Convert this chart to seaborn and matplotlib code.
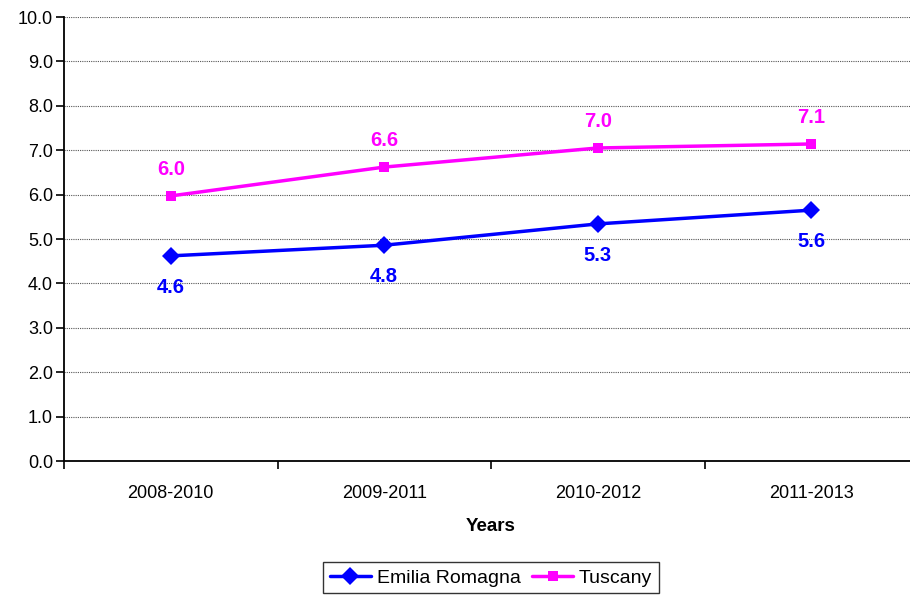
import matplotlib
matplotlib.use("Agg")
import matplotlib.pyplot as plt
import seaborn as sns
import numpy as np
import pandas as pd

# data
years = ['2008-2010', '2009-2011', '2010-2012', '2011-2013']
emilia = [4.62, 4.86, 5.34, 5.65]
tuscany = [5.97, 6.62, 7.05, 7.14]
emilia_labels = ['4.6', '4.8', '5.3', '5.6']
tuscany_labels = ['6.0', '6.6', '7.0', '7.1']
y_ticks = [0, 1, 2, 3, 4, 5, 6, 7, 8, 9, 10]

df = pd.DataFrame({
    'Years': years * 2,
    'Value': emilia + tuscany,
    'Region': ['Emilia Romagna'] * 4 + ['Tuscany'] * 4,
})

sns.set_theme(style="white")
plt.rcParams['font.family'] = ['Liberation Sans', 'DejaVu Sans']
plt.rcParams['text.color'] = 'black'
plt.rcParams['axes.labelcolor'] = 'black'
plt.rcParams['xtick.color'] = 'black'
plt.rcParams['ytick.color'] = 'black'

fig = plt.figure(figsize=(9.1, 5.95), dpi=100)
ax = fig.add_axes([64 / 910, 1 - 461 / 595, (918 - 64) / 910, (461 - 17) / 595])

colors = {'Emilia Romagna': '#0000ff', 'Tuscany': '#ff00ff'}
markers = {'Emilia Romagna': 'D', 'Tuscany': 's'}
sns.lineplot(data=df, x='Years', y='Value', hue='Region', style='Region',
             palette=colors, markers=markers, dashes=False, markersize=9,
             linewidth=2.5, markeredgewidth=0, ax=ax, sort=False)

# diamonds a bit bigger than the squares
for ln in ax.get_lines():
    if ln.get_marker() == 'D':
        ln.set_markersize(9.5)
    elif ln.get_marker() == 's':
        ln.set_markersize(7)

x = np.arange(len(years))
for xi, v, lab in zip(x, emilia, emilia_labels):
    ax.annotate(lab, (xi, v), xytext=(0, -16), textcoords='offset points',
                ha='center', va='top', color='#0000ff', fontsize=14.5, fontweight='bold')
for xi, v, lab in zip(x, tuscany, tuscany_labels):
    ax.annotate(lab, (xi, v), xytext=(0, 12), textcoords='offset points',
                ha='center', va='bottom', color='#ff00ff', fontsize=14.5, fontweight='bold')

ax.set_ylim(0, 10)
ax.set_xlim(-0.5, 3.5)
ax.set_yticks(y_ticks)
ax.set_yticklabels([f'{t:.1f}' for t in y_ticks], fontsize=13)
ax.set_xticks(x)
ax.set_xticklabels(years, fontsize=13)
ax.set_xticks(np.arange(-0.5, 4, 1), minor=True)
ax.tick_params(axis='x', which='major', bottom=True, length=0, pad=17)
ax.tick_params(axis='x', which='minor', bottom=True, length=6, width=1.2, color='black', direction='out')
ax.tick_params(axis='y', left=True, length=6, width=1.2, color='black', direction='out', pad=2)
ax.yaxis.grid(True, linestyle=(0, (1, 1)), color='#555555', linewidth=0.8)
ax.xaxis.grid(False)
for s in ['top', 'right']:
    ax.spines[s].set_visible(False)
for s in ['left', 'bottom']:
    ax.spines[s].set_color('black')
    ax.spines[s].set_linewidth(1.3)
ax.set_ylabel('')
ax.set_xlabel('Years', fontsize=13.5, fontweight='bold', labelpad=12)

handles, labels = ax.get_legend_handles_labels()
leg = ax.legend(handles, labels, loc='upper center', bbox_to_anchor=(0.5, -0.228),
                ncol=2, frameon=True, fancybox=False, fontsize=14,
                handlelength=2.1, columnspacing=0.6, handletextpad=0.3,
                borderpad=0.35, borderaxespad=0)
leg.get_frame().set_edgecolor('black')
leg.get_frame().set_linewidth(1.0)

fig.savefig('out.png', dpi=100)
